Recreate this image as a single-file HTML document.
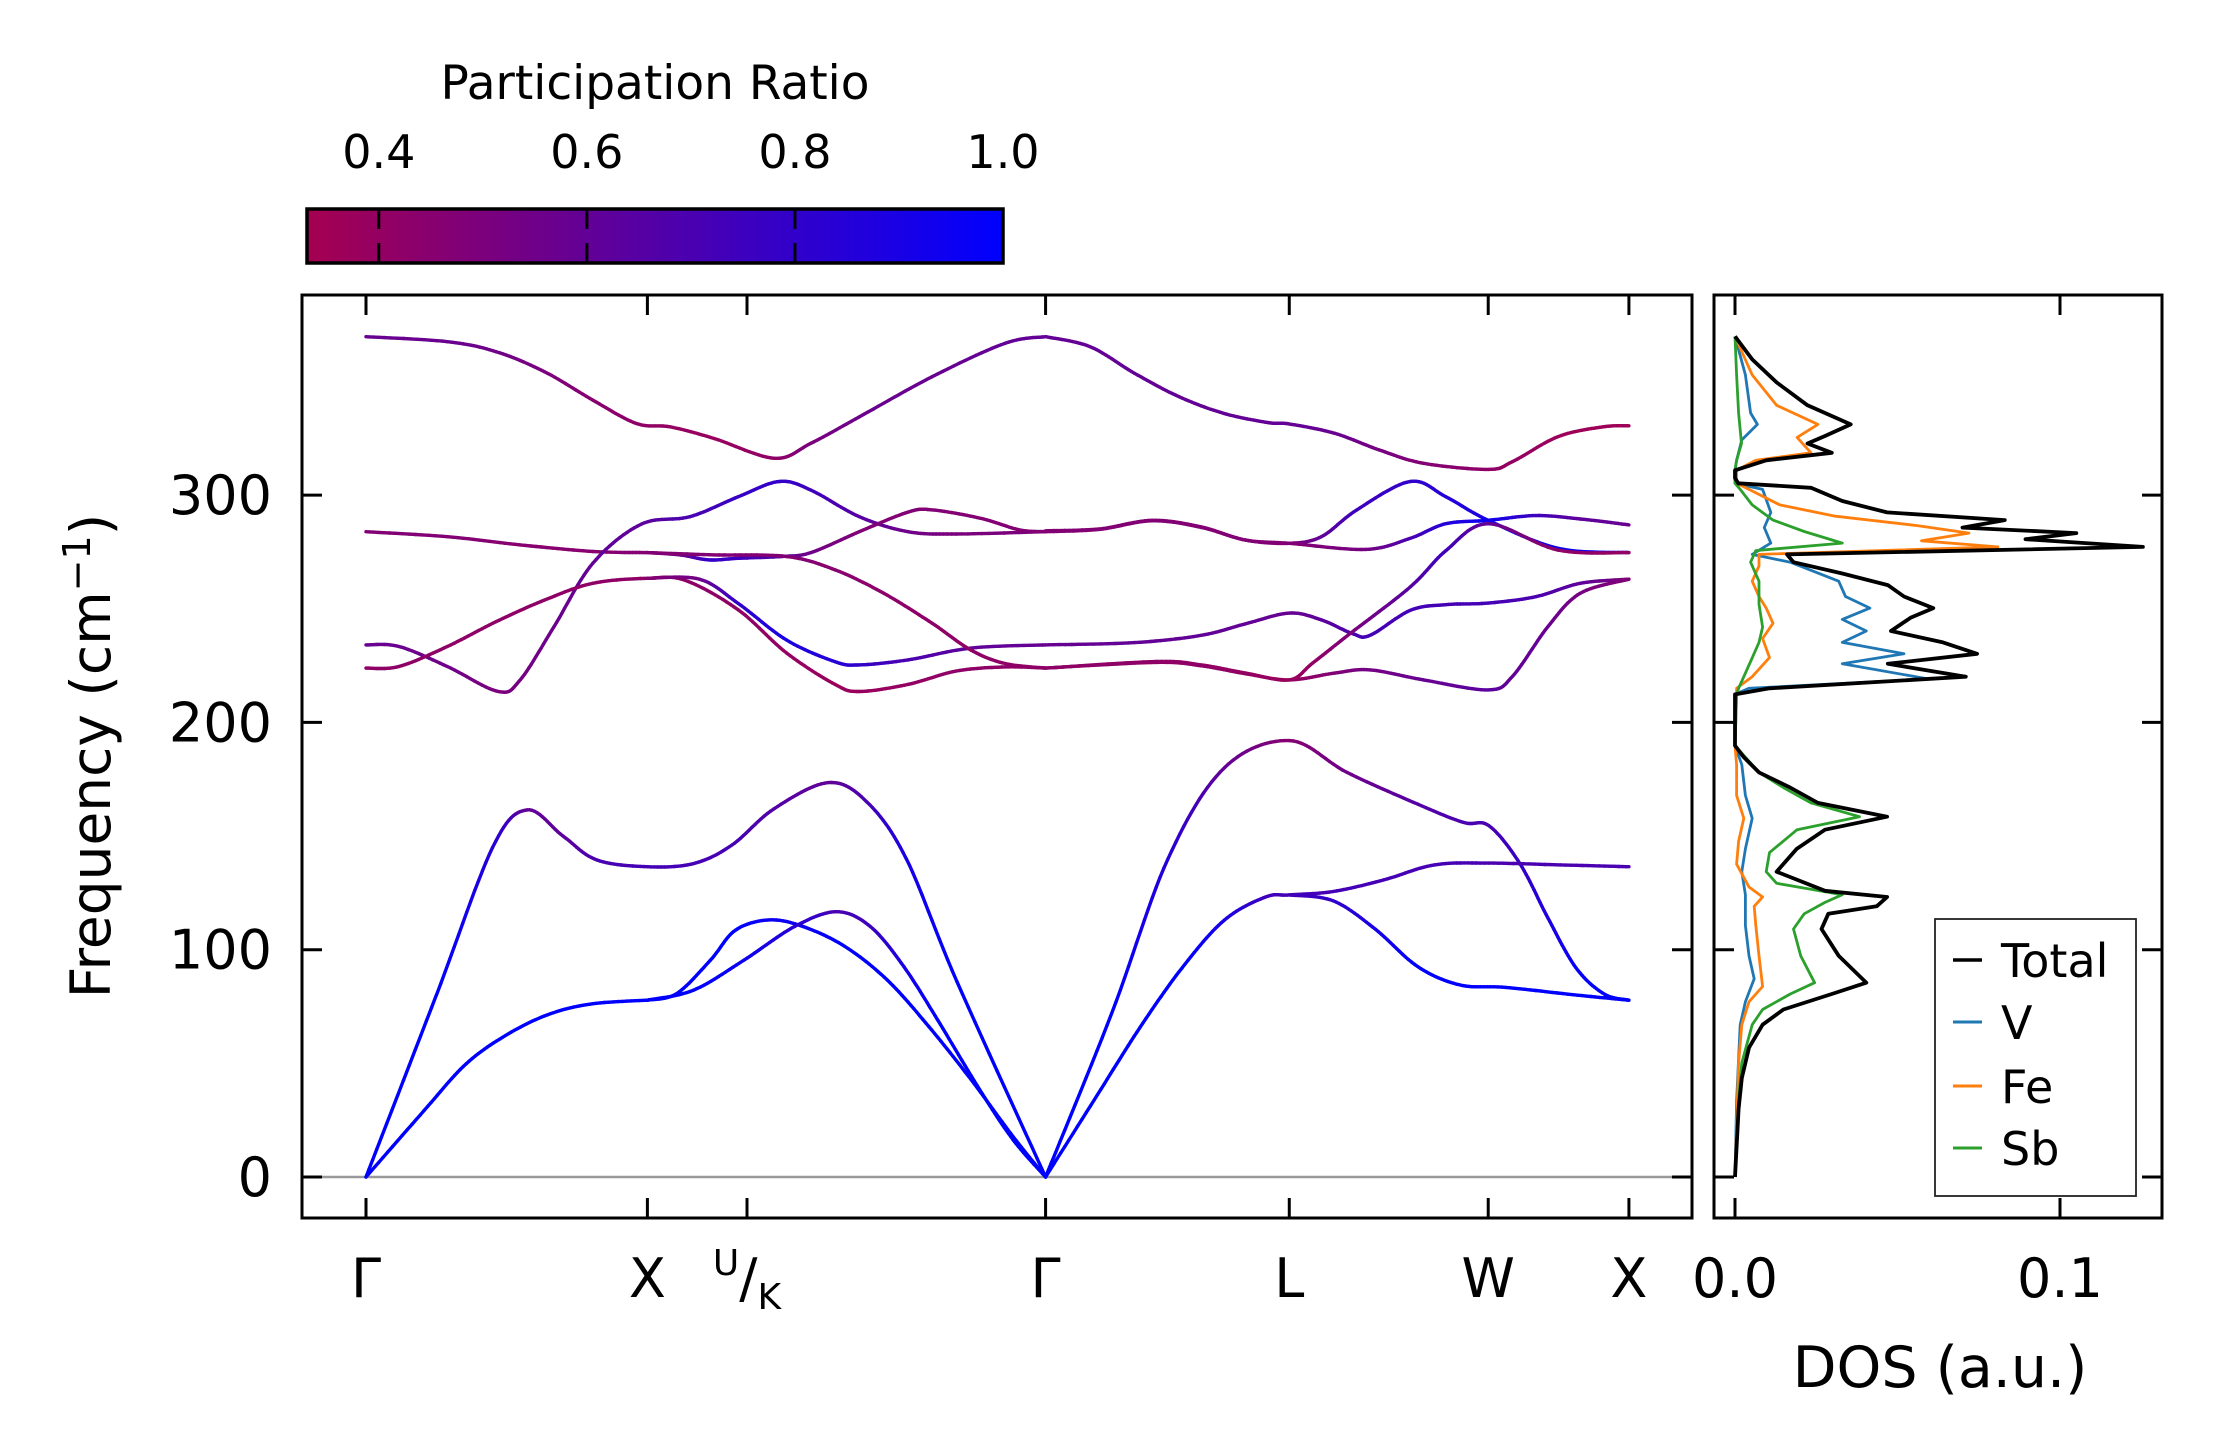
<!DOCTYPE html>
<html><head><meta charset="utf-8"><title>Phonon band structure and DOS</title>
<style>
html,body{margin:0;padding:0;background:#fff;}
svg{display:block;font-family:"DejaVu Sans","Liberation Sans",sans-serif;}
</style></head>
<body>
<svg id="fig" width="2222" height="1455" viewBox="0 0 2222 1455" xmlns="http://www.w3.org/2000/svg">
<defs>
<linearGradient id="cbgrad" x1="0" x2="1" y1="0" y2="0">
<stop offset="0" stop-color="rgb(165,0,80)"/>
<stop offset="1" stop-color="rgb(0,0,255)"/>
</linearGradient>
</defs>
<g>
<text x="655" y="99" font-size="47" text-anchor="middle">Participation Ratio</text>
<rect x="307" y="209" width="696" height="54" fill="url(#cbgrad)" stroke="#000" stroke-width="3.5"/>
<g id="cbticks"></g>
</g>
<g id="band-axes">
<line x1="302" y1="1177" x2="1692" y2="1177" stroke="#999" stroke-width="2.5"/>
<g id="bands"></g>
<rect x="302" y="295" width="1390" height="923" fill="none" stroke="#000" stroke-width="3"/>
<g id="bticks"></g>
<text transform="translate(110,756) rotate(-90)" font-size="55" text-anchor="middle">Frequency (cm<tspan font-size="38" dy="-20">−1</tspan><tspan dy="20">)</tspan></text>
</g>
<g id="dos-axes">
<g id="dos"></g>
<rect x="1714" y="295" width="448" height="923" fill="none" stroke="#000" stroke-width="3"/>
<g id="dticks"></g>
<text x="1940" y="1387" font-size="57" text-anchor="middle">DOS (a.u.)</text>
<g>
<rect x="1935" y="919" width="201" height="277" fill="#fff" stroke="#222" stroke-width="1.8"/>
<line x1="1953" y1="960" x2="1982" y2="960" stroke="#000" stroke-width="3.5"/>
<text x="2001" y="977" font-size="46">Total</text>
<line x1="1953" y1="1022" x2="1982" y2="1022" stroke="#1f77b4" stroke-width="3"/>
<text x="2001" y="1039" font-size="46">V</text>
<line x1="1953" y1="1086" x2="1982" y2="1086" stroke="#ff7f0e" stroke-width="3"/>
<text x="2001" y="1103" font-size="46">Fe</text>
<line x1="1953" y1="1148" x2="1982" y2="1148" stroke="#2ca02c" stroke-width="3"/>
<text x="2001" y="1165" font-size="46">Sb</text>
</g>
</g>
</svg>
<script>
// ---- data ----
const kPoints = [0, 1.0, 1.354, 2.415, 3.281, 3.988, 4.488];
const kLabels = ["Γ", "X", "U/K", "Γ", "L", "W", "X"];
const yTicks = [0, 100, 200, 300];
const cbTicks = [0.4, 0.6, 0.8, 1.0];
const dosTicks = [0.0, 0.1];
const prMin = 0.331, prMax = 1.0;

const bandTA_GX = [[0,0],[0.207,29.3],[0.356,49.8],[0.506,63],[0.655,71.8],[0.805,76.2],[1.0,77.8]];
const prTA_GX = [1,1,1,1,1,1,1];
const bandLA_GXG = [[0,0],[0.25,80],[0.45,145],[0.572,161.5],[0.7,150],[0.82,139.5],[1.0,136.5],[1.164,137.9],[1.3,146],[1.45,162],[1.643,173.5],[1.78,165],[1.92,140],[2.1,86],[2.415,0]];
const prLA_GXG = [1,1,0.85,0.6,0.62,0.7,0.72,0.72,0.72,0.67,0.6,0.7,0.9,1,1];
const bandTA_XG1 = [[1.0,77.8],[1.104,80.7],[1.224,95.4],[1.313,108.6],[1.433,113.1],[1.553,110.2],[1.702,101.4],[1.852,86.7],[2.0,66.2],[2.151,42.7],[2.3,17.7],[2.415,0]];
const prTA_XG1 = [1,1,1,1,0.95,0.95,1,1,1,1,1,1];
const bandTA_XG2 = [[1.0,77.8],[1.164,82.2],[1.343,95.4],[1.523,110.2],[1.672,116.7],[1.792,110.2],[1.911,92.6],[2.031,69.2],[2.181,38.4],[2.3,16.3],[2.415,0]];
const prTA_XG2 = [1,1,0.95,0.85,0.7,0.75,0.9,1,1,1,1];
const bandLA_GLWX = [[2.415,0],[2.65,72],[2.85,140],[3.05,180],[3.281,192],[3.486,178],[3.738,164],[3.9,156],[3.991,154.5],[4.1,138],[4.2,114],[4.3,92],[4.4,80.5],[4.488,77.8]];
const prLA_GLWX = [1,1,0.85,0.6,0.45,0.55,0.66,0.7,0.7,0.78,0.88,0.97,1,1];
const bandTA_GLWX1 = [[2.415,0],[2.6,36.3],[2.75,65.7],[2.9,92],[3.05,113],[3.197,123.2],[3.281,124.1],[3.437,125.6],[3.617,130.7],[3.797,137.3],[3.991,138.1],[4.245,137.3],[4.488,136.5]];
const prTA_GLWX1 = [1,1,1,1,0.9,0.75,0.72,0.72,0.72,0.72,0.7,0.7,0.7];
const bandTA_LWX2 = [[3.281,124.1],[3.437,121.5],[3.587,109],[3.737,92.6],[3.887,84.5],[4.05,83.4],[4.305,80],[4.488,77.8]];
const prTA_LWX2 = [0.72,0.8,0.9,1,1,1,1,1];

const bandTopA = [[0,369.7],[0.289,367.5],[0.462,363.1],[0.634,354.3],[0.806,341.8],[0.961,331.5],[1.082,330],[1.237,324.9],[1.452,316.2],[1.581,322.8],[1.753,334.4],[2.012,352.1],[2.271,366.8],[2.415,369.7]];
const prTopA = [0.58,0.57,0.55,0.5,0.45,0.42,0.4,0.38,0.42,0.5,0.56,0.58,0.6,0.6];
const bandTopB = [[2.415,369.7],[2.573,365.3],[2.731,353.6],[2.889,343.3],[3.047,336],[3.205,331.9],[3.281,331.3],[3.442,327.2],[3.6,319.9],[3.758,314],[3.988,311.3],[4.074,314.7],[4.236,325.7],[4.394,330],[4.488,330.5]];
const prTopB = [0.6,0.6,0.6,0.6,0.6,0.6,0.6,0.58,0.52,0.47,0.42,0.4,0.37,0.36,0.36];
const band284_GX = [[0,283.9],[0.289,281.7],[0.548,278.1],[0.806,275.2],[1.0,274.7]];
const pr284_GX = [0.47,0.47,0.45,0.45,0.47];
const band234_GXG = [[0,234.1],[0.117,233.4],[0.289,224.6],[0.47,213.6],[0.548,218.7],[0.668,242.1],[0.806,270],[0.978,287.2],[1.151,290.5],[1.323,299.3],[1.469,306],[1.581,302.2],[1.753,290.5],[1.926,283.9],[2.098,282.9],[2.415,283.9]];
const pr234_GXG = [0.58,0.57,0.55,0.5,0.52,0.56,0.6,0.62,0.7,0.78,0.8,0.75,0.65,0.55,0.5,0.5];
const band223_GXG = [[0,223.9],[0.117,224.6],[0.289,233.4],[0.462,244.3],[0.634,253.8],[0.806,261.2],[1.0,263.4],[1.134,262.5],[1.323,249.5],[1.495,230.5],[1.667,216.7],[1.753,213.6],[1.926,216.7],[2.098,222.6],[2.271,224.4],[2.415,223.9]];
const pr223_GXG = [0.42,0.42,0.42,0.42,0.42,0.42,0.42,0.42,0.42,0.4,0.38,0.38,0.4,0.42,0.42,0.42];
const band263_XG = [[1.0,263.4],[1.185,263.0],[1.323,252.3],[1.495,236.2],[1.667,226.7],[1.753,225.3],[1.926,227.5],[2.15,232.7],[2.415,234.1]];
const pr263_XG = [0.45,0.55,0.8,0.9,0.85,0.8,0.7,0.62,0.58];
const band275a_XG = [[1.0,274.7],[1.116,273.7],[1.219,271.5],[1.323,272.2],[1.478,273],[1.581,274.7],[1.753,283.9],[1.926,292.5],[2.012,293.5],[2.184,289.8],[2.322,284.7],[2.415,283.9]];
const pr275a_XG = [0.48,0.55,0.8,0.75,0.65,0.55,0.48,0.47,0.47,0.47,0.47,0.47];
const band275b_XG = [[1.0,274.7],[1.237,273.7],[1.495,273],[1.667,267.1],[1.84,256.8],[2.012,243.6],[2.15,231.8],[2.271,225.9],[2.415,223.9]];
const pr275b_XG = [0.47,0.47,0.47,0.45,0.43,0.42,0.42,0.42,0.42];
const bandO2_GLWX = [[2.415,284.3],[2.605,285.1],[2.794,288.9],[2.968,286],[3.126,280.2],[3.281,278.8],[3.395,281.7],[3.521,293.5],[3.711,306],[3.837,299.3],[3.988,288.9],[4.236,276.6],[4.488,274.7]];
const prO2_GLWX = [0.47,0.47,0.47,0.47,0.47,0.47,0.6,0.75,0.8,0.85,0.9,0.95,0.95];
const bandO3_GLWX = [[2.415,283.9],[2.605,284.9],[2.794,288.7],[2.968,285.8],[3.126,280.2],[3.281,278.8],[3.553,276.1],[3.711,281],[3.837,287.4],[3.988,288.9],[4.157,291],[4.315,289.5],[4.488,286.9]];
const prO3_GLWX = [0.47,0.47,0.47,0.47,0.47,0.47,0.52,0.7,0.85,0.95,0.75,0.62,0.58];
const bandO4_GLWX = [[2.415,234.1],[2.731,235.1],[2.968,238.3],[3.126,243.4],[3.281,248.1],[3.395,245.1],[3.505,239.1],[3.568,238.3],[3.711,249.3],[3.837,251.8],[3.988,252.5],[4.157,255.3],[4.315,261.2],[4.488,263]];
const prO4_GLWX = [0.58,0.6,0.6,0.6,0.58,0.62,0.7,0.72,0.72,0.72,0.72,0.7,0.62,0.48];
const bandO5_GLWX = [[2.415,223.9],[2.81,226.8],[2.968,225.3],[3.126,221.7],[3.281,218.7],[3.363,226],[3.489,238.3],[3.711,259.6],[3.837,275.5],[3.988,287.4],[4.236,275.8],[4.488,274.7]];
const prO5_GLWX = [0.42,0.42,0.4,0.4,0.38,0.4,0.48,0.65,0.75,0.6,0.42,0.4];
const bandO6_GLWX = [[2.415,223.9],[2.81,226.4],[2.968,224.9],[3.126,221.4],[3.281,218.7],[3.442,221.7],[3.568,223.1],[3.758,218.7],[3.988,214.3],[4.074,220.2],[4.2,242.1],[4.315,256.8],[4.488,263]];
const prO6_GLWX = [0.42,0.42,0.42,0.4,0.38,0.48,0.53,0.58,0.63,0.6,0.58,0.52,0.48];

const dosTotalFreq = [369.8,359.7,349.6,339.5,331.1,326.0,322.7,318.6,315.3,310.9,307.5,305.2,303.2,297.4,292.4,289.0,285.7,283.3,280.6,277.2,273.9,270.5,265.5,260.4,255.4,250.3,246.0,240.2,235.2,230.2,225.8,220.1,215.0,212.3,201.6,189.8,184.7,178.0,171.3,164.6,158.5,152.8,144.4,134.3,125.9,123.2,119.1,115.8,109.1,97.3,85.5,80.5,73.7,67.0,56.9,43.5,30.0,0];
const dosTotal = [0,0.0053,0.0128,0.0223,0.0356,0.0277,0.0223,0.0298,0.0096,0,0,0.001,0.0234,0.033,0.0468,0.083,0.070,0.105,0.0894,0.1255,0.016,0.018,0.033,0.047,0.052,0.061,0.054,0.048,0.064,0.0745,0.047,0.071,0.0106,0,0,0,0.0027,0.0074,0.017,0.0255,0.0468,0.0277,0.019,0.0128,0.0277,0.0468,0.0436,0.0287,0.0266,0.0319,0.0404,0.0298,0.0149,0.0085,0.0043,0.0021,0.0011,0];
const dosVFreq = [369.8,352.9,336.1,331.1,324.3,315.3,310.9,305.2,302.5,292.4,285.7,278.9,273.9,270.5,262.1,255.4,250.3,245.3,240.2,235.2,230.2,225.8,219.1,215.0,212.3,189.8,181.4,167.9,157.8,144.4,134.3,124.2,110.7,97.3,87.2,77.1,67.0,33.4,0];
const dosV = [0,0.0032,0.0048,0.0069,0.0021,0.0005,0,0,0.0085,0.011,0.009,0.011,0.0053,0.017,0.0319,0.034,0.0415,0.033,0.0404,0.033,0.052,0.033,0.0596,0.0043,0,0,0.0021,0.0032,0.0053,0.0032,0.0021,0.0032,0.0032,0.0043,0.0059,0.0032,0.0016,0.0005,0];
const dosFeFreq = [369.8,352.9,339.5,331.1,325.4,318.6,315.3,310.9,305.2,302.5,295.7,290.7,286.7,283.3,279.9,277.2,273.9,268.8,262.1,255.4,250.3,243.6,236.9,228.5,220.1,215.0,212.3,189.8,181.4,167.9,157.8,147.7,137.6,127.6,123.2,119.1,110.7,97.3,83.8,77.1,67.0,50.2,0];
const dosFe = [0,0.0053,0.0128,0.0255,0.0191,0.0234,0.0064,0.0005,0.0005,0.0043,0.0138,0.0309,0.0553,0.072,0.0574,0.0809,0.0074,0.0074,0.0053,0.0074,0.0096,0.0117,0.0085,0.0106,0.0053,0.0005,0.0005,0,0.0005,0.0005,0.0027,0.0011,0.0005,0.0043,0.0085,0.0059,0.0064,0.0074,0.0085,0.0043,0.0021,0.0011,0];
const dosSbFreq = [369.8,352.9,336.1,322.7,315.3,310.9,305.2,302.5,295.7,289.0,284.0,278.9,275.6,270.5,262.1,252.0,241.9,235.2,226.8,220.1,215.0,212.3,189.8,184.7,178.0,171.3,164.6,158.5,152.8,142.7,134.3,129.2,124.2,120.8,115.8,109.1,97.3,85.5,80.5,73.7,67.0,50.2,33.4,0];
const dosSb = [0,0.0005,0.0011,0.002,0.0005,0,0,0.0016,0.0053,0.0117,0.0213,0.033,0.0064,0.0048,0.0074,0.0074,0.0085,0.0074,0.0048,0.0027,0.0011,0.0005,0,0.0032,0.0074,0.0149,0.0234,0.0383,0.0191,0.0106,0.0096,0.0128,0.033,0.0277,0.0213,0.018,0.0202,0.0245,0.017,0.0085,0.0053,0.0021,0.0011,0];

const SVGNS = "http://www.w3.org/2000/svg";
function xk(k){ return 366 + k*281.4; }
function yf(f){ return 1177 - f*2.273; }
function xd(d){ return 1735 + d*3250; }
function xcb(p){ return 307 + (p-prMin)/(prMax-prMin)*696; }
function cmap(p){
  let t=(p-prMin)/(prMax-prMin); t=Math.max(0,Math.min(1,t));
  return "rgb("+Math.round(165*(1-t))+",0,"+Math.round(80+175*t)+")";
}
function mk(tag, attrs, parent){
  const el=document.createElementNS(SVGNS,tag);
  for(const a in attrs) el.setAttribute(a, attrs[a]);
  parent.appendChild(el); return el;
}

const cbg=document.getElementById("cbticks");
cbTicks.forEach((v,i)=>{
  const x=xcb(v);
  if(v<prMax){
    const t1=mk("line",{x1:x,y1:209,x2:x,y2:229,stroke:"#000","stroke-width":3},cbg);
    
    
    const t2=mk("line",{x1:x,y1:243,x2:x,y2:263,stroke:"#000","stroke-width":3},cbg);
    
    
  }
  const tx=mk("text",{x:x,y:168,"font-size":46,"text-anchor":"middle"},cbg);
  tx.textContent=v.toFixed(1);
  
  
});

const bt=document.getElementById("bticks");
kPoints.forEach((k,i)=>{
  const x=xk(k);
  const a=mk("line",{x1:x,y1:295,x2:x,y2:315,stroke:"#000","stroke-width":3},bt);
  
  
  const b=mk("line",{x1:x,y1:1198,x2:x,y2:1218,stroke:"#000","stroke-width":3},bt);
  
  
  const lab=kLabels[i];
  const t=mk("text",{x:x,y:1297,"font-size":54,"text-anchor":"middle"},bt);
  
  
  if(lab==="U/K"){
    const s1=mk("tspan",{"font-size":36,dy:-22},t); s1.textContent="U";
    const s2=mk("tspan",{"font-size":54,dy:22},t); s2.textContent="/";
    const s3=mk("tspan",{"font-size":36,dy:12},t); s3.textContent="K";
  } else t.textContent=lab;
});
yTicks.forEach(v=>{
  const y=yf(v);
  const a=mk("line",{x1:302,y1:y,x2:322,y2:y,stroke:"#000","stroke-width":3},bt);
  
  
  const b=mk("line",{x1:1672,y1:y,x2:1692,y2:y,stroke:"#000","stroke-width":3},bt);
  
  
  const t=mk("text",{x:272,y:y+19,"font-size":54,"text-anchor":"end"},bt);
  t.textContent=String(v);
  
  
});

const dt=document.getElementById("dticks");
dosTicks.forEach(v=>{
  const x=xd(v);
  const a=mk("line",{x1:x,y1:295,x2:x,y2:315,stroke:"#000","stroke-width":3},dt);
  
  
  const b=mk("line",{x1:x,y1:1198,x2:x,y2:1218,stroke:"#000","stroke-width":3},dt);
  
  
  const t=mk("text",{x:x,y:1297,"font-size":54,"text-anchor":"middle"},dt);
  t.textContent=v.toFixed(1);
  
  
});
yTicks.forEach(v=>{
  const y=yf(v);
  const a=mk("line",{x1:1714,y1:y,x2:1734,y2:y,stroke:"#000","stroke-width":3},dt);
  
  
  const b=mk("line",{x1:2142,y1:y,x2:2162,y2:y,stroke:"#000","stroke-width":3},dt);
  
  
});

const bandsG=document.getElementById("bands");
const bandList=[
 [bandTA_GX,prTA_GX],[bandLA_GXG,prLA_GXG],[bandTA_XG1,prTA_XG1],[bandTA_XG2,prTA_XG2],
 [bandLA_GLWX,prLA_GLWX],[bandTA_GLWX1,prTA_GLWX1],[bandTA_LWX2,prTA_LWX2],
 [bandTopA,prTopA],[bandTopB,prTopB],[band284_GX,pr284_GX],[band234_GXG,pr234_GXG],
 [band223_GXG,pr223_GXG],[band263_XG,pr263_XG],[band275a_XG,pr275a_XG],[band275b_XG,pr275b_XG],
 [bandO2_GLWX,prO2_GLWX],[bandO3_GLWX,prO3_GLWX],[bandO4_GLWX,prO4_GLWX],[bandO5_GLWX,prO5_GLWX],[bandO6_GLWX,prO6_GLWX]
];
bandList.forEach((bp,bi)=>{
  const pts=bp[0].map(p=>[xk(p[0]),yf(p[1])]);
  const prs=bp[1];
  const g=mk("g",{},bandsG);
  
  
  const n=pts.length;
  for(let i=0;i<n-1;i++){
    const p0=pts[Math.max(0,i-1)],p1=pts[i],p2=pts[i+1],p3=pts[Math.min(n-1,i+2)];
    const steps=14;
    let prev=p1;
    for(let s=1;s<=steps;s++){
      const t=s/steps,t2=t*t,t3=t2*t;
      const x=0.5*((2*p1[0])+(-p0[0]+p2[0])*t+(2*p0[0]-5*p1[0]+4*p2[0]-p3[0])*t2+(-p0[0]+3*p1[0]-3*p2[0]+p3[0])*t3);
      const y=0.5*((2*p1[1])+(-p0[1]+p2[1])*t+(2*p0[1]-5*p1[1]+4*p2[1]-p3[1])*t2+(-p0[1]+3*p1[1]-3*p2[1]+p3[1])*t3);
      const pr=prs[i]+(prs[i+1]-prs[i])*(t-0.5/steps);
      const seg=mk("line",{x1:prev[0].toFixed(1),y1:prev[1].toFixed(1),x2:x.toFixed(1),y2:y.toFixed(1),stroke:cmap(pr),"stroke-width":3.4,"stroke-linecap":"round"},g);
      
      
      prev=[x,y];
    }
  }
});

const dosG=document.getElementById("dos");
const dosSeries=[[dosVFreq,dosV,"#1f77b4",2.8,"dos-v"],[dosFeFreq,dosFe,"#ff7f0e",2.8,"dos-fe"],[dosSbFreq,dosSb,"#2ca02c",2.8,"dos-sb"],[dosTotalFreq,dosTotal,"#000",3.8,"dos-total"]];
dosSeries.forEach(s=>{
  const d=s[0].map((f,i)=>xd(s[1][i]).toFixed(1)+","+yf(f).toFixed(1)).join(" ");
  const pl=mk("polyline",{points:d,fill:"none",stroke:s[2],"stroke-width":s[3],"stroke-linejoin":"round"},dosG);
  
  
});
</script>
</body></html>
